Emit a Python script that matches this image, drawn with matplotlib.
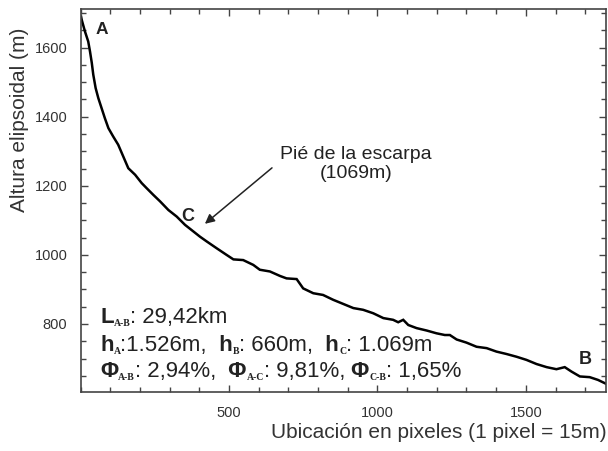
import numpy as np
import matplotlib
matplotlib.use("Agg")
import matplotlib.pyplot as plt
from matplotlib.ticker import MultipleLocator

plt.rcParams['font.family'] = ['Liberation Sans', 'DejaVu Sans']

# Perfil A-B (posicion en pixeles, altura elipsoidal en m)
x_pos = [2, 4, 15, 26, 32, 38, 43, 51, 60, 71, 82, 94, 110, 127, 144, 161,
         184, 206, 223, 245, 268, 296, 324, 352, 380, 402, 425, 459, 492,
         515, 548, 582, 604, 638, 672, 694, 728, 750, 784, 817, 851, 885,
         919, 952, 986, 1020, 1053, 1070, 1087, 1104, 1132, 1166, 1199, 1227,
         1244, 1267, 1300, 1334, 1368, 1401, 1435, 1469, 1502, 1536, 1570,
         1603, 1631, 1654, 1682, 1715, 1743, 1772]
altura = [1690, 1681, 1647, 1618, 1589, 1556, 1522, 1483, 1454, 1425, 1396,
          1367, 1343, 1319, 1285, 1251, 1232, 1208, 1193, 1174, 1155, 1130,
          1111, 1087, 1068, 1053, 1039, 1019, 1000, 987, 985, 971, 957, 952,
          939, 932, 930, 903, 889, 884, 870, 858, 846, 841, 831, 817, 812,
          805, 812, 797, 788, 781, 773, 768, 768, 755, 746, 734, 730, 720,
          713, 705, 696, 684, 675, 669, 675, 662, 648, 646, 638, 626]

x_ticks = [500, 1000, 1500]
y_ticks = [800, 1000, 1200, 1400, 1600]

W, H = 608, 451
fig = plt.figure(figsize=(W / 100, H / 100), dpi=100)
ax = fig.add_axes([80.5 / W, 1 - 392 / H, (606 - 80.5) / W, (392 - 9) / H])

ax.plot(x_pos, altura, color="black", lw=1.8, solid_joinstyle="miter")

ax.set_xlim(0, 1770)
ax.set_ylim(603, 1712)
ax.set_xticks(x_ticks)
ax.set_yticks(y_ticks)
ax.xaxis.set_minor_locator(MultipleLocator(100))
ax.yaxis.set_minor_locator(MultipleLocator(50))
ax.tick_params(which="both", direction="in", top=True, right=True,
               color="#444444", width=1.0)
ax.tick_params(which="major", length=5, labelsize=10.5, labelcolor="#333333")
ax.tick_params(which="minor", length=3.5)
ax.tick_params(axis="x", pad=10)
ax.tick_params(axis="y", pad=9.5)
for s in ax.spines.values():
    s.set_color("#444444")
    s.set_linewidth(1.2)

txtc = "#222222"
fig.text(20 / W, 1 - 120 / H, "Altura elipsoidal (m)", rotation=90,
         ha="center", va="center", fontsize=15, color="#333333")
fig.text(607 / W, 1 - 438 / H, "Ubicación en pixeles (1 pixel = 15m)",
         ha="right", va="baseline", fontsize=15, color="#333333")

# puntos A, B, C
ax.text(72, 1652, "A", fontsize=12.5, fontweight="bold", color=txtc,
        ha="center", va="center")
ax.text(362, 1110, "C", fontsize=13, fontweight="bold", color=txtc,
        ha="center", va="center")
ax.text(1699, 696, "B", fontsize=13, fontweight="bold", color=txtc,
        ha="center", va="center")

ax.annotate("", xy=(419, 1090), xytext=(645, 1252),
            arrowprops=dict(arrowstyle="-|>", color=txtc, lw=1.1,
                            mutation_scale=14, shrinkA=0, shrinkB=0))
ax.text(928, 1264, "Pié de la escarpa\n(1069m)", fontsize=14, color=txtc,
        ha="center", va="center", multialignment="center", linespacing=1.15)

# bloque de texto con subindices
fig.canvas.draw()
rend = fig.canvas.get_renderer()

def linea(x0, base, partes):
    x = x0
    for s, tipo in partes:
        if tipo == "b":
            kw = dict(fontsize=16, fontweight="bold")
            dy = 0
        elif tipo == "s":
            kw = dict(fontsize=7, fontweight="bold", family="Liberation Serif")
            dy = -2.5
        else:
            kw = dict(fontsize=16)
            dy = 0
        t = fig.text(x / W, (H - base + dy) / H, s, ha="left", va="baseline",
                     color=txtc, **kw)
        bb = t.get_window_extent(rend)
        x = bb.x1

linea(100, 323, [("L", "b"), ("A-B", "s"), (": 29,42km", "r")])
linea(100, 351, [("h", "b"), ("A", "s"), (":1.526m,", "r"), ("  h", "b"),
                 ("B", "s"), (": 660m,", "r"), ("  h", "b"), ("C", "s"),
                 (": 1.069m", "r")])
linea(100, 377, [("Φ", "b"), ("A-B", "s"), (": 2,94%,", "r"), ("  Φ", "b"),
                 ("A-C", "s"), (": 9,81%,", "r"), (" Φ", "b"), ("C-B", "s"),
                 (": 1,65%", "r")])

fig.savefig("out.png", dpi=100)
